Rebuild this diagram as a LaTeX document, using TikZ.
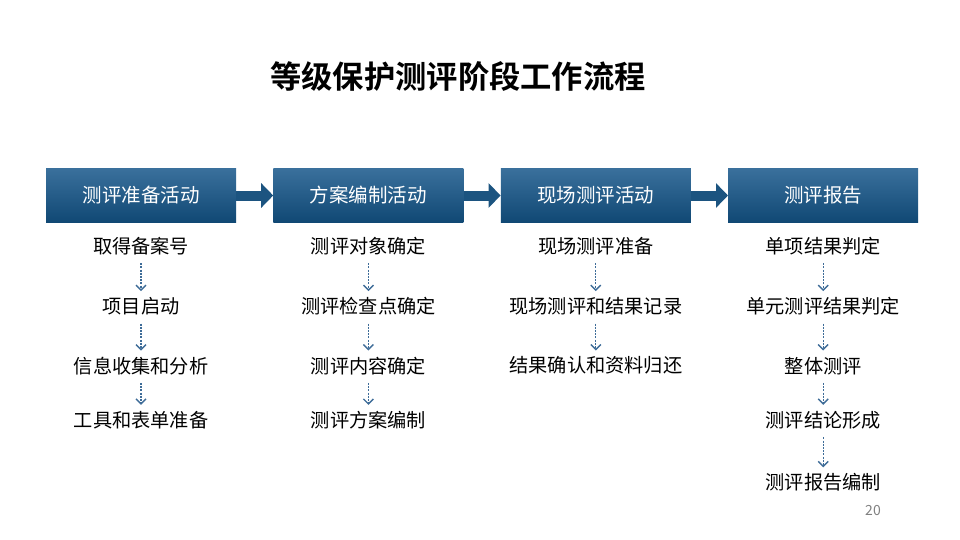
\documentclass[tikz,border=0pt]{standalone}
\usepackage{fontspec}
\setmainfont{Noto Sans CJK SC}[BoldFont={* Bold}]
\usetikzlibrary{positioning,arrows.meta}
\definecolor{phasetop}{RGB}{58,112,156}
\definecolor{phasebot}{RGB}{16,72,116}
\definecolor{phasearrow}{RGB}{28,84,128}
\definecolor{dashblue}{RGB}{62,108,152}
\tikzset{
  phase/.style={minimum width=190pt,minimum height=54pt,inner sep=0pt,
    top color=phasetop,bottom color=phasebot,text=white,
    font=\fontsize{19.5}{21}\selectfont},
  item/.style={minimum height=20pt,inner sep=0pt,font=\fontsize{19.2}{21}\selectfont},
  flow/.style={phasearrow,line width=10pt,-{Triangle[length=12pt,width=24pt]}},
  sub/.style={dashblue,dashed,dash pattern=on 2pt off 1.2pt,line width=1.3pt,
    -{Straight Barb[length=5pt,width=10pt,line width=1.4pt]},shorten <=7pt,shorten >=5pt},
}

\begin{document}
\begin{tikzpicture}[x=1pt,y=-1pt,node distance=37pt]
  \useasboundingbox (0,0) rectangle (960,540);
  \node[font=\fontsize{31.3}{33}\selectfont\bfseries] (title) at (458,76) {等级保护测评阶段工作流程};
  % four phases
  \node[phase] (p1) at (141,195.5) {测评准备活动};
  \node[phase,right=of p1] (p2) {方案编制活动};
  \node[phase,right=of p2] (p3) {现场测评活动};
  \node[phase,right=of p3] (p4) {测评报告};
  \draw[flow] (p1) -- (p2);
  \draw[flow] (p2) -- (p3);
  \draw[flow] (p3) -- (p4);
  % column 1
  \node[item,below=13pt of p1] (a1) {取得备案号};
  \node[item,below=40pt of a1] (a2) {项目启动};
  \node[item,below=39pt of a2] (a3) {信息收集和分析};
  \node[item,below=34pt of a3] (a4) {工具和表单准备};
  % column 2
  \node[item,below=13pt of p2] (b1) {测评对象确定};
  \node[item,below=40pt of b1] (b2) {测评检查点确定};
  \node[item,below=39pt of b2] (b3) {测评内容确定};
  \node[item,below=34pt of b3] (b4) {测评方案编制};
  % column 3
  \node[item,below=13pt of p3] (c1) {现场测评准备};
  \node[item,below=40pt of c1] (c2) {现场测评和结果记录};
  \node[item,below=39pt of c2] (c3) {结果确认和资料归还};
  % column 4
  \node[item,below=13pt of p4] (d1) {单项结果判定};
  \node[item,below=40pt of d1] (d2) {单元测评结果判定};
  \node[item,below=39pt of d2] (d3) {整体测评};
  \node[item,below=34pt of d3] (d4) {测评结论形成};
  \node[item,below=42pt of d4] (d5) {测评报告编制};
  \foreach \a/\b in {a1/a2,a2/a3,a3/a4,b1/b2,b2/b3,b3/b4,c1/c2,c2/c3,d1/d2,d2/d3,d3/d4,d4/d5}
    \draw[sub] (\a) -- (\b);
  \node[text=gray,font=\fontsize{14}{16}\selectfont] (page) at (873,511) {20};
\end{tikzpicture}
\end{document}
